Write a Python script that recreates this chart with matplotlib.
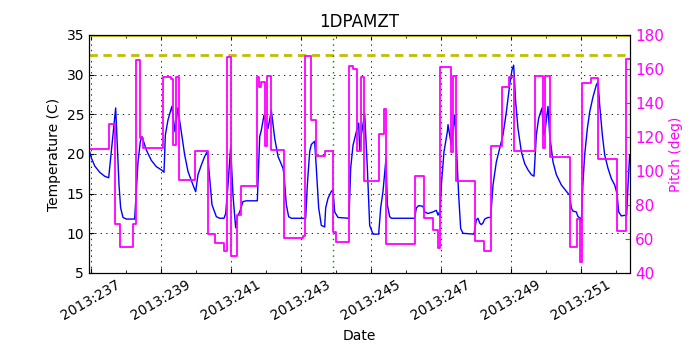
import numpy as np
import matplotlib
matplotlib.use('Agg')
import matplotlib.pyplot as plt

# day of year 2013 (fractional) and 1DPAMZT temperature
temp_days = [236.94, 237.01, 237.105, 237.248, 237.39, 237.505, 237.581, 237.657, 237.705,
             237.752, 237.80, 237.847, 237.914, 238.01, 238.247, 238.276, 238.343, 238.41,
             238.457, 238.581, 238.724, 238.867, 239.01, 239.086, 239.124, 239.2, 239.31,
             239.40, 239.48, 239.581, 239.676, 239.771, 239.914, 239.99, 240.057, 240.152,
             240.248, 240.324, 240.39, 240.457, 240.514, 240.581, 240.676, 240.80, 240.848,
             240.914, 240.99, 241.057, 241.133, 241.181, 241.248, 241.343, 241.438, 241.752,
             241.82, 241.867, 241.943, 242.057, 242.152, 242.248, 242.343, 242.486, 242.514,
             242.581, 242.647, 242.724, 243.133, 243.181, 243.248, 243.295, 243.39, 243.438,
             243.505, 243.581, 243.676, 243.705, 243.771, 243.867, 243.914, 243.962, 244.057,
             244.371, 244.419, 244.486, 244.581, 244.648, 244.676, 244.724, 244.819, 244.896,
             244.962, 245.057, 245.219, 245.276, 245.343, 245.43, 245.467, 245.533, 245.581,
             246.248, 246.295, 246.362, 246.486, 246.533, 246.629, 246.771, 246.867, 246.914,
             246.943, 246.971, 247.01, 247.086, 247.181, 247.2, 247.295, 247.39, 247.438,
             247.505, 247.562, 247.629, 247.943, 248.01, 248.057, 248.105, 248.152, 248.2,
             248.248, 248.343, 248.419, 248.486, 248.581, 248.676, 248.771, 248.867, 248.962,
             249.029, 249.076, 249.133, 249.2, 249.295, 249.39, 249.486, 249.581, 249.657,
             249.724, 249.79, 249.885, 249.933, 249.98, 250.057, 250.105, 250.2, 250.295,
             250.438, 250.581, 250.676, 250.724, 250.771, 250.867, 250.914, 250.981, 251.01,
             251.057, 251.105, 251.181, 251.248, 251.343, 251.438, 251.486, 251.533, 251.61,
             251.676, 251.771, 251.867, 251.962, 252.029, 252.076, 252.152, 252.305, 252.343,
             252.39]
temp_vals = [20.6, 19.5, 18.5, 17.7, 17.2, 17.0, 20.3, 23.7, 25.8,
             21.1, 16.1, 13.2, 12.0, 11.8, 11.8, 14.0, 19.0, 21.6,
             22.2, 20.5, 19.2, 18.4, 18.0, 17.7, 22.4, 24.3, 26.0,
             22.8, 25.8, 22.8, 19.9, 17.8, 16.1, 15.25, 17.4, 18.6,
             19.7, 20.3, 16.9, 13.6, 12.9, 12.1, 11.9, 11.9, 12.5,
             16.1, 20.9, 14.8, 10.7, 12.1, 12.7, 14.0, 14.1, 14.1,
             22.2, 23.0, 24.9, 23.2, 25.5, 22.0, 19.7, 18.2, 17.4,
             13.6, 12.1, 11.9, 11.9, 16.1, 20.3, 21.2, 21.6, 18.2,
             13.2, 11.0, 10.8, 13.2, 14.4, 15.3, 15.5, 12.7, 12.0,
             11.9, 18.2, 21.1, 22.8, 23.9, 20.5, 22.4, 25.1, 18.2,
             11.0, 9.9, 9.9, 13.2, 15.3, 19.5, 13.6, 12.1, 11.9,
             11.9, 13.2, 13.5, 13.4, 12.7, 12.5, 12.7, 12.9, 12.3,
             12.6, 12.1, 16.1, 20.3, 22.8, 23.7, 21.1, 24.9, 21.1,
             14.8, 10.6, 10.0, 9.9, 11.7, 11.9, 11.3, 11.1, 11.3,
             11.8, 12.0, 12.0, 16.1, 19.0, 20.7, 22.4, 25.3, 28.7,
             30.6, 31.2, 26.6, 23.2, 20.3, 18.8, 18.0, 17.4, 17.2,
             22.4, 24.5, 25.8, 22.4, 23.2, 26.0, 22.4, 19.0, 17.4,
             16.1, 15.3, 14.8, 13.2, 12.8, 12.7, 12.1, 11.9, 11.5,
             16.5, 19.9, 23.2, 25.3, 27.2, 28.7, 29.1, 26.2, 22.4,
             19.9, 18.2, 16.9, 16.1, 15.0, 12.7, 12.2, 12.3, 16.1,
             19.9]

# pitch, held constant from each time to the next
pitch_days = [236.94, 237.505, 237.695, 237.838, 238.21, 238.276, 238.41, 238.486, 239.07,
              239.30, 239.33, 239.42, 239.515, 239.981, 240.343, 240.553, 240.80, 240.895,
              240.99, 241.162, 241.276, 241.733, 241.81, 241.87, 241.98, 242.04, 242.133,
              242.514, 243.057, 243.124, 243.276, 243.438, 243.695, 243.914, 244.01, 244.371,
              244.486, 244.61, 244.705, 244.80, 245.229, 245.371, 245.429, 246.267, 246.515,
              246.77, 246.914, 246.98, 247.276, 247.333, 247.438, 247.962, 248.229, 248.438,
              248.752, 248.943, 249.076, 249.676, 249.914, 249.98, 250.105, 250.676, 250.885,
              250.962, 251.019, 251.295, 251.486, 252.03, 252.295, 252.4]
pitch_vals = [112.7, 127.6, 68.6, 55.3, 68.6, 165.3, 119.2, 113.7, 155.5,
              154.0, 115.3, 155.5, 94.7, 112.0, 62.9, 57.5, 53.0, 167.0,
              50.2, 74.0, 91.4, 155.5, 149.6, 152.5, 114.7, 156.0, 112.4,
              60.4, 61.8, 167.8, 130.0, 109.0, 112.0, 64.0, 58.0, 161.8,
              159.8, 112.0, 155.5, 94.3, 121.8, 136.5, 57.0, 97.3, 72.2,
              65.3, 54.9, 161.0, 111.4, 156.0, 94.3, 59.0, 53.0, 114.7,
              149.6, 155.5, 112.0, 156.0, 113.3, 156.0, 108.0, 55.5, 71.6,
              46.7, 152.0, 154.5, 106.9, 64.7, 165.9, 165.9]

planning_limit = 32.5
now_day = 243.92
tick_days = [237, 239, 241, 243, 245, 247, 249, 251]
tick_labels = ['2013:%d' % d for d in tick_days]

plt.rcParams['xtick.direction'] = 'in'
plt.rcParams['ytick.direction'] = 'in'
plt.rcParams['lines.scale_dashes'] = False
plt.rcParams['lines.dotted_pattern'] = [1, 3]

fig = plt.figure(figsize=(7, 3.5), dpi=100)
ax = fig.add_axes([0.127, 0.22, 0.773, 0.68])
ax.plot(temp_days, temp_vals, color='b', lw=1)
ax.axhline(planning_limit, color='y', ls='--', lw=2, dashes=(6, 4))
ax.axhline(35, color='y', lw=2)
ax.axvline(now_day, color='g', ls=':', lw=1)
ax.set_xlim(236.94, 252.4)
ax.set_ylim(5, 35)
ax.set_xticks(tick_days)
ax.set_xticklabels(tick_labels, rotation=30)
ax.set_xticks(np.arange(238, 253, 2), minor=True)
ax.tick_params(which='both', top=True)
ax.grid(True, color='k', ls=':', lw=0.6)
ax.set_xlabel('Date')
ax.set_ylabel('Temperature (C)')
ax.set_title('1DPAMZT')

ax2 = ax.twinx()
ax2.plot(pitch_days, pitch_vals, color='magenta', lw=1.3, drawstyle='steps-post')
ax2.set_ylim(40, 180)
ax2.set_xlim(236.94, 252.4)
ax2.set_ylabel('Pitch (deg)', color='magenta')
ax2.tick_params(axis='y', colors='magenta', labelsize=11)

fig.savefig('out.png', dpi=100)
